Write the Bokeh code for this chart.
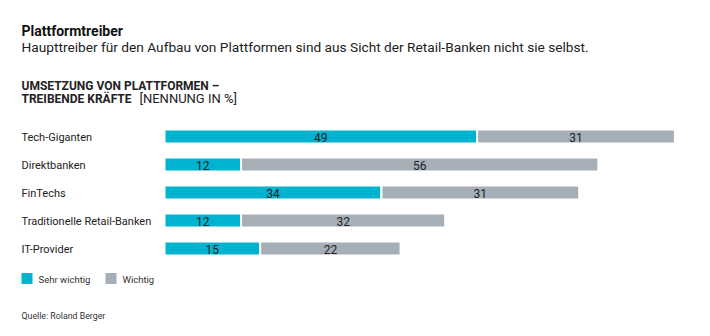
from bokeh.plotting import figure
from bokeh.models import Range1d, ColumnDataSource
from bokeh.core.properties import value
from bokeh.embed import file_html
from bokeh.resources import INLINE

categories = ["Tech-Giganten", "Direktbanken", "FinTechs", "Traditionelle Retail-Banken", "IT-Provider"]
sehr_wichtig = [49, 12, 34, 12, 15]
wichtig = [31, 56, 31, 32, 22]
series_names = ["Sehr wichtig", "Wichtig"]
colors = ["#00b3cf", "#a6afb8"]

title = "Plattformtreiber"
subtitle = "Haupttreiber für den Aufbau von Plattformen sind aus Sicht der Retail-Banken nicht sie selbst."
head1 = "UMSETZUNG VON PLATTFORMEN –"
head2_bold = "TREIBENDE KRÄFTE"
head2_rest = "[NENNUNG IN %]"
source_txt = "Quelle: Roland Berger"

FONT = "Roboto"
W, H = 710, 336
X0 = 164          # pixel where value 0 sits
K = 6.38          # pixels per percentage point
ROW0, ROWSTEP = 136, 28

def px(xpix):
    return (xpix - X0) / K

p = figure(width=W, height=H, output_backend="svg", toolbar_location=None,
           x_range=Range1d(px(0), px(W)), y_range=Range1d(H, 0),
           min_border=0, outline_line_color=None)
p.axis.visible = False
p.grid.visible = False
p.background_fill_color = "white"
p.border_fill_color = "white"

ys = [ROW0 + ROWSTEP * i for i in range(len(categories))]
src = ColumnDataSource(dict(y=ys, cat=categories, sw=sehr_wichtig, w=wichtig))
p.hbar_stack(["sw", "w"], y="y", height=14, color=colors, line_color="white",
             line_width=2, source=src)

# value labels
mid_sw = [a / 2 for a in sehr_wichtig]
mid_w = [a + b / 2 for a, b in zip(sehr_wichtig, wichtig)]
lab = ColumnDataSource(dict(x=mid_sw + mid_w, y=ys + ys,
                            t=[str(v) for v in sehr_wichtig + wichtig]))
p.text(x="x", y="y", text="t", source=lab, text_align="center", text_baseline="middle",
       text_font=value(FONT), text_font_size="12px", text_color="#222222", y_offset=1)

# category labels
p.text(x=[px(21)] * len(categories), y=ys, text=categories, text_align="left",
       text_baseline="middle", text_font=value(FONT), text_font_size="11px",
       text_color="#222222", y_offset=1)

# titles
p.text(x=[px(21)], y=[30], text=[title], text_font=value(FONT), text_font_size="14px",
       text_font_style="bold", text_color="#111111", text_baseline="alphabetic")
p.text(x=[px(21)], y=[46], text=[subtitle], text_font=value(FONT), text_font_size="13.7px",
       text_color="#222222", text_baseline="alphabetic")
p.text(x=[px(21)], y=[85], text=[head1], text_font=value(FONT), text_font_size="12px",
       text_font_style="bold", text_color="#222222", text_baseline="alphabetic")
p.text(x=[px(21)], y=[98], text=[head2_bold], text_font=value(FONT), text_font_size="12px",
       text_font_style="bold", text_color="#222222", text_baseline="alphabetic")
p.text(x=[px(139)], y=[98], text=[head2_rest], text_font=value(FONT), text_font_size="13px",
       text_color="#222222", text_baseline="alphabetic")

# legend
leg_x = [px(21), px(105)]
p.rect(x=[lx + 5.5 / K for lx in leg_x], y=[278, 278], width=11 / K, height=11,
       color=colors, line_color=None)
p.text(x=[px(38), px(122)], y=[278, 278], text=series_names, text_font=value(FONT),
       text_font_size="9.5px", text_color="#333333", text_baseline="middle", y_offset=1)

# source
p.text(x=[px(21)], y=[315], text=[source_txt], text_font=value(FONT), text_font_size="8.8px",
       text_color="#333333", text_baseline="alphabetic")

open("out.html", "w").write(file_html(p, INLINE))
